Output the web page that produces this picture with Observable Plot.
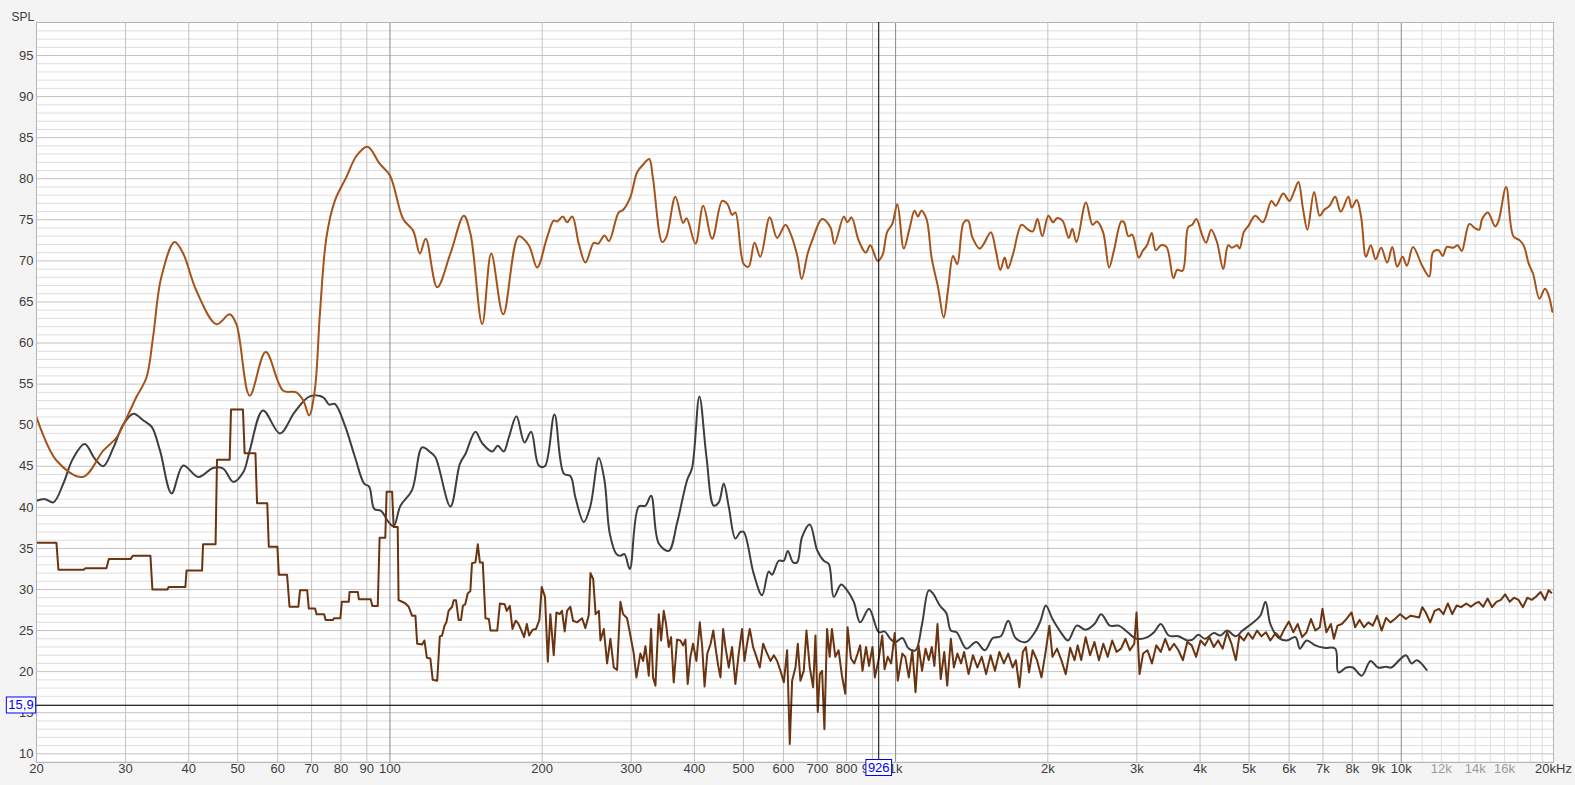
<!DOCTYPE html>
<html><head><meta charset="utf-8">
<script src="https://cdn.jsdelivr.net/npm/d3@7"></script>
<script src="https://cdn.jsdelivr.net/npm/@observablehq/plot@0.6"></script>
<style>
html,body{margin:0;padding:0;background:#f4f4f4;}
#chart{width:1575px;height:785px;}
</style></head><body><div id="chart"></div>
<script>
// ---- axis / tick data ----
const yMajor = [10,15,20,25,30,35,40,45,50,55,60,65,70,75,80,85,90,95];
const yMinor = [9,11,12,13,14,16,17,18,19,21,22,23,24,26,27,28,29,31,32,33,34,36,37,38,39,41,42,43,44,46,47,48,49,51,52,53,54,56,57,58,59,61,62,63,64,66,67,68,69,71,72,73,74,76,77,78,79,81,82,83,84,86,87,88,89,91,92,93,94,96,97,98];
const xMajor = [30,40,50,60,70,80,90,200,300,400,500,600,700,800,900,2000,3000,4000,5000,6000,7000,8000,9000];
const xDecade = [100,1000,10000];
const xMinor = [11000,12000,13000,14000,15000,16000,17000,18000,19000];
const xLabels = [[20,"20"],[30,"30"],[40,"40"],[50,"50"],[60,"60"],[70,"70"],[80,"80"],[90,"90"],[100,"100"],[200,"200"],[300,"300"],[400,"400"],[500,"500"],[600,"600"],[700,"700"],[800,"800"],[900,"900"],[1000,"1k"],[2000,"2k"],[3000,"3k"],[4000,"4k"],[5000,"5k"],[6000,"6k"],[7000,"7k"],[8000,"8k"],[9000,"9k"],[10000,"10k"],[20000,"20kHz"]];
const xLabelsLight = [[12000,"12k"],[14000,"14k"],[16000,"16k"]];
const cursorFreq = 926;
const cursorSpl = 15.9;
const cursorFreqLabel = "926";
const cursorSplLabel = "15,9";

// ---- series: [frequency Hz, SPL dB] ----
const orangeCurve = [
[20,51.0],[21.9,45.7],[24.7,43.7],[27.1,46.9],[28.8,48.5],[30.2,51.0],[31.5,53.4],[33.0,55.8],[34.0,60.7],[35.3,68.0],[37.5,72.3],[39.0,70.9],[41.4,66.4],[45.4,62.3],[48.2,63.5],[49.7,62.3],[52.8,53.6],[56.8,58.9],[61.5,54.2],[65.3,54.0],[67.4,53.0],[69.2,51.2],[71.0,54.2],[72.7,63.6],[74.9,72.9],[77.8,77.3],[82.0,80.2],[85.9,82.8],[90.3,83.9],[95.5,81.8],[100,80.4],[106.2,75.1],[111.1,73.7],[114.6,70.9],[117.7,72.7],[124,66.8],
[131.7,70.9],[140,75.5],[144.3,73.3],[152.2,62.3],[158.6,70.9],[167.5,63.5],[179.8,73.0],[188.2,71.9],[195.5,69.2],[204.6,72.9],[210.8,74.9],[214,74.8],[219.7,75.4],[224,74.7],[229.4,75.4],[236.3,72.1],[243.6,69.8],[253,72.2],[258,72.1],[265.7,73.1],[271,72.4],[283.4,75.9],[289,76.2],[299,77.8],[308.2,80.8],[317.6,81.8],[325.6,82.4],[331,80.2],[345.5,72.3],[352,72.9],[366.9,77.8],[380,74.6],[386,75.2],[402,72.1],[416.4,76.7],[433.8,72.7],[454,77.3],[465,76.9],[475,75.6],[482,75.9],[500.8,69.6],[512,69.3],[526,72.2],[540,70.5],[563.8,75.3],[583,72.8],[605.6,74.4],[618,73.5],[638.7,70.7],[652,67.8],[670,70.9],[684,72.5],[715.8,75.1],[743,74.1],[757,72.1],[790,75.4],[803,74.7],[818,75.3],[845,72.5],[873,71.0],[891,71.9],[921.8,70.0],[942,70.7],[962,73.5],[985,74.5],[1008,76.9],
[1038,71.5],[1065,73.9],[1090,76.1],[1107,75.4],[1124,76.1],[1151,75.1],[1178,70.4],[1213,66.8],[1245,63.1],[1269,66.4],[1299,70.6],[1324,69.6],[1364,74.7],[1391,74.9],[1418,72.9],[1466,71.5],[1495,72.1],[1543,73.5],[1580,71.1],[1611,68.9],[1643,70.4],[1668,69.1],[1708,70.9],[1775,74.4],[1829,73.8],[1868,73.6],[1908,75.1],[1950,73.0],[2005,75.5],[2049,74.7],[2084,75.2],[2138,74.9],[2200,72.8],[2236,73.9],[2279,72.3],[2379,77.1],[2451,74.4],[2501,74.8],[2572,73.5],[2644,69.2],[2703,71.3],[2795,74.8],[2830,74.7],[2886,73.0],[2936,73.2],[3026,70.4],[3080,71.2],[3141,71.9],[3210,73.4],[3270,71.3],[3349,71.9],[3433,71.7],[3543,67.9],[3604,68.9],[3694,68.8],[3789,74.1],[3861,74.4],[3934,75.1],[4030,73.3],[4110,72.2],[4208,73.8],[4320,72.3],[4446,69.0],[4547,71.9],[4624,71.6],[4735,71.9],[4790,71.5],[4882,73.5],[4990,74.3],[5142,75.5],[5327,74.7],[5537,77.3],[5646,76.7],[5842,78.2],[6010,77.3],[6134,78.4],[6260,79.6],[6393,76.3],[6522,73.8],[6723,78.4],[6896,75.5],[7036,76.2],[7213,76.7],[7403,77.8],[7591,76.0],[7858,77.8],[7981,76.5],[8164,77.4],[8331,75.3],[8515,70.5],[8702,71.9],[8899,70.2],[9124,71.6],[9379,69.8],[9600,71.7],[9815,69.3],[10060,70.5],[10260,69.4],[10550,71.7],[11000,69.4],[11360,68.1],[11560,71.1],[11850,71.3],[12080,70.6],[12310,71.7],[12670,71.6],[12930,71.9],[13170,71.2],[13630,74.5],[13980,74.0],[14260,73.8],[14450,75.1],[14830,75.9],[15330,74.2],[15560,74.8],[16120,79.0],[16660,73.0],[17150,72.5],[17480,71.8],[17880,69.6],[18230,68.4],[18760,65.4],[19230,66.6],[19510,66.0],[19900,63.8]
];

const grayCurve = [
[20,40.8],[20.8,41.0],[21.6,40.6],[22.6,42.9],[23.6,45.9],[24.9,47.7],[26.1,45.9],[27.1,45.0],[28.4,47.3],[29.7,50.1],[31.1,51.4],[32.5,50.6],[33.8,49.8],[35.1,46.9],[37.0,41.7],[39.0,45.1],[41.8,43.7],[44.7,44.8],[46.8,44.7],[49.0,43.1],[51.3,44.3],[52.8,46.9],[56.1,51.8],[60.6,49.0],[64.8,51.6],[69.4,53.5],[73.8,53.4],[75.8,52.5],[77.8,52.6],[81.4,50.0],[85.3,46.1],[88.9,42.9],[91.0,42.5],[93.1,39.8],[95.9,39.6],[99.4,38.2],[101.7,37.7],[104.9,40.2],
[110.6,42.1],[115.8,47.3],[120.2,46.7],[123.0,46.1],[131.7,40.1],[137.5,45.3],[141.0,46.5],[147.6,49.2],[152.2,47.8],[159.3,46.8],[163.4,47.5],[167.9,46.8],[171.8,48.5],[177.9,51.1],[184.5,47.9],[190.2,49.2],[196.9,45.1],[202.4,45.0],[211.5,51.3],[220.7,44.1],[227.5,43.8],[232.7,41.2],[241.7,38.2],[249.2,40.2],[258.8,46.0],[265.6,43.3],[272.1,36.8],[280.5,34.3],[285.6,34.1],[290.9,34.3],[298.0,32.5],[310.5,40.1],[320.0,40.2],[328.4,41.4],[340.1,35.6],[355.9,34.7],[369.7,38.1],[386.9,43.3],[395.8,44.8],[409.2,53.5],[422.5,46.2],[436.9,40.2],[446.9,40.6],[457.2,42.9],[467.7,40.1],[482.1,36.2],[493.2,37.0],[500.8,37.0],[524.1,31.9],[544.4,29.3],[561.1,32.2],[569.7,31.8],[587.4,33.5],[601.0,33.5],[612.0,34.7],[627.1,33.3],[638.6,33.3],[653.3,36.4],[676.5,37.9],[699.5,34.8],[721.0,33.5],[737.7,33.1],[754.6,29.1],[780.3,30.6],[801.9,29.9],[826.6,28.5],
[851,26.0],[886,27.65],[926,24.8],[951,24.9],[976,24.0],[1000,23.6],[1031,24.1],[1062,22.8],[1095,22.6],[1128,25.8],[1163,29.9],[1186,29.5],[1223,28.05],[1260,27.1],[1286,25.0],[1320,24.8],[1380,22.8],[1443,23.6],[1501,22.6],[1557,24.1],[1614,24.3],[1670,26.2],[1727,24.1],[1810,23.6],[1885,24.8],[1935,26.2],[1982,28.05],[2043,26.4],[2127,24.7],[2192,23.8],[2282,25.6],[2376,25.1],[2473,25.8],[2550,27.0],[2654,25.6],[2763,25.6],[2877,24.8],[2995,24.0],[3149,24.2],[3245,24.8],[3345,25.8],[3468,24.4],[3625,24.3],[3774,23.8],[3866,23.9],[3969,24.5],[4090,24.0],[4258,24.7],[4389,24.4],[4523,25.0],[4709,24.3],[4853,25.0],[5052,25.8],[5260,26.8],[5389,28.5],[5509,25.8],[5700,24.2],[5934,23.8],[6178,24.2],[6303,22.8],[6496,23.8],[6763,23.2],[7040,22.9],[7403,22.8],[7508,19.9],[7785,20.5],[8023,20.5],[8353,19.5],[8695,21.3],[8997,20.5],[9329,20.6],[9557,20.5],[9909,21.4],[10212,22.0],[10483,21.0],[10739,21.4],[11226,20.2]
];

const brownCurve = [
[20,35.7],[21.9,35.7],[22.1,32.4],[24.8,32.4],[25.0,32.6],[27.5,32.6],[27.8,33.7],[30.7,33.7],[31.0,34.1],[33.6,34.1],[33.9,30.0],[36.3,30.0],[36.5,30.3],[39.4,30.3],[39.6,32.3],[42.5,32.3],[42.7,35.5],[45.2,35.5],[45.5,45.8],[48.2,45.8],[48.5,51.9],[51.2,51.9],[51.6,46.6],[54.2,46.6],[54.6,40.5],[57.2,40.5],[57.6,35.2],[59.9,35.2],[60.3,31.8],[62.6,31.8],[63.3,27.9],[65.9,27.9],[66.4,29.9],[68.6,29.9],[69.1,27.7],[71.1,27.7],[71.6,27.0],[74.1,27.0],[74.6,26.3],[77.2,26.3],[77.5,26.5],[79.8,26.5],[80.3,28.5],[82.9,28.5],[83.2,29.7],[86.4,29.7],[86.8,28.8],[91.6,28.8],[92.3,28.0],[94.6,28.0],[95.4,36.3],[97.9,36.3],[98.5,41.9],[101.0,41.9],[101.7,37.6],[103.6,37.6],[104.0,28.7],
[104.9,28.6],[107.3,28.3],[108.9,27.9],[110.6,26.8],[112.3,26.8],[113.2,23.4],[115.8,23.3],[117.0,23.8],[118.3,21.7],[120.2,21.6],[121.5,19.0],[124.0,18.9],[125.5,24.3],[126.8,24.4],[128.2,25.6],[129.3,26.0],[130.6,27.4],[132.7,27.9],[133.7,28.7],[135.1,28.7],[136.7,26.3],[138.2,26.3],[139.4,28.0],[140.9,28.2],[142.5,29.5],[144.2,29.8],[145.3,33.2],[147.6,33.3],[149.2,35.5],[150.6,33.3],[152.6,33.3],[154.5,26.5],[156.9,26.4],[158.1,25.0],[163.0,25.0],[165.0,28.3],[168.6,28.2],[170.2,27.4],[172.6,28.0],[174.7,25.2],[177.3,26.2],[179.2,25.9],[181.4,25.2],[184.2,24.2],[186.5,25.8],[188.5,24.4],[191.5,25.1],[194.5,25.2],[197.5,26.3],[199.6,30.3],[202.6,29.1],[205.2,21.2],[207.6,27.0],[210.8,22.0],[213.4,27.2],[216.6,27.0],[218.9,27.4],[221.6,24.9],[224.0,27.4],[227.4,27.9],[230.2,26.2],[234.4,26.0],[239.9,26.5],[243.5,25.3],[247.3,26.9],[249.2,32.0],[252.3,31.3],[255.1,27.0],[258.9,27.4],[260.8,23.8],[264.8,25.2],[268.8,21.0],[272.9,24.0],[277.1,20.5],[281.3,20.2],[285.6,28.5],[289.1,27.0],[294.4,26.5],[298.9,24.4],[303.5,22.2],[307.2,19.3],[312.8,22.2],[316.7,21.3],[320.1,23.1],[325.0,19.5],[328.4,25.2],[331.4,19.3],[335.0,18.3],[340.1,27.0],[343.8,23.8],[347.9,27.4],[351.6,25.8],[355.9,23.0],[359.7,24.2],[364.1,18.7],[369.7,23.9],[375.3,23.8],[379.9,23.2],[384.0,23.9],[388.0,18.5],[392.8,21.8],[397.6,23.4],[403.7,21.3],[410.0,26.0],[414.5,23.0],[419.0,18.2],[424.2,22.2],[430.7,23.4],[436.0,25.0],[440.7,22.8],[445.6,20.8],[450.4,19.3],[455.9,25.2],[460.8,23.0],[467.8,20.5],[474.9,23.0],[482.1,18.5],[489.5,22.2],[497.0,25.2],[502.4,21.3],[508.5,23.4],[514.7,25.2],[522.6,23.0],[530.6,21.8],[538.7,20.5],[547.0,23.4],[555.3,22.4],[565.6,21.3],[574.3,22.0],[583.1,21.3],[592.0,20.1],[601.0,18.7],[610.2,22.6],[617.6,11.2],[624.2,18.9],[633.8,20.5],[640.6,23.4],[648.3,18.9],[658.2,20.1],[666.3,25.0],[676.5,20.5],[686.9,18.1],[694.2,24.4],[701.6,15.1],[708.0,19.7],[715.5,20.1],[723.1,13.0],[731.8,25.2],[740.6,21.8],[748.3,25.2],[759.8,21.8],[771.4,22.6],[783.2,19.5],[795.2,17.3],[803.6,25.4],[815.9,21.6],[828.4,21.0],[841.1,22.2],
[851,23.2],[860,20.1],[874,23.0],[886,20.7],[900,23.0],[910,19.3],[925,21.4],[941,24.4],[951,20.3],[965,21.8],[980,21.0],[996,24.7],[1010,18.9],[1031,22.2],[1045,21.8],[1062,19.3],[1079,22.6],[1095,17.5],[1110,23.2],[1128,20.1],[1146,22.8],[1163,21.4],[1179,23.0],[1193,20.7],[1210,25.8],[1228,19.1],[1248,22.4],[1265,18.3],[1286,24.0],[1304,20.5],[1325,22.2],[1347,21.0],[1366,22.4],[1394,19.7],[1422,22.0],[1451,20.5],[1480,21.8],[1510,19.7],[1541,22.0],[1572,20.1],[1604,22.4],[1637,21.0],[1670,22.2],[1704,20.5],[1729,21.4],[1757,18.1],[1785,22.4],[1810,23.0],[1836,19.9],[1866,22.6],[1904,21.4],[1943,19.3],[1982,22.6],[2014,25.6],[2043,21.8],[2085,22.8],[2127,21.4],[2170,19.7],[2214,22.9],[2259,21.4],[2291,23.2],[2328,21.4],[2376,24.2],[2424,22.0],[2473,23.6],[2524,21.4],[2575,23.4],[2627,21.8],[2681,23.8],[2735,22.4],[2791,22.8],[2848,24.0],[2906,22.6],[2965,23.4],[2995,27.2],[3037,19.7],[3086,22.2],[3149,22.6],[3213,21.0],[3278,23.2],[3345,22.4],[3413,24.0],[3482,22.6],[3553,23.4],[3625,22.6],[3699,21.4],[3774,23.6],[3851,23.2],[3929,21.8],[4009,23.8],[4090,23.2],[4173,24.2],[4258,23.0],[4345,23.8],[4433,22.8],[4523,24.8],[4615,23.4],[4709,21.4],[4785,24.4],[4882,23.8],[4982,24.7],[5083,24.0],[5186,25.0],[5291,24.3],[5399,24.8],[5509,23.8],[5643,24.7],[5758,24.1],[5875,25.2],[5994,26.1],[6116,24.8],[6240,25.8],[6367,24.2],[6496,24.8],[6628,26.4],[6763,25.0],[6900,25.4],[6984,27.65],[7111,24.8],[7256,25.8],[7359,24.0],[7478,25.6],[7630,25.8],[7785,26.4],[7975,27.2],[8104,25.4],[8269,26.3],[8437,25.4],[8608,26.0],[8783,25.6],[8961,26.8],[9143,25.0],[9329,26.55],[9518,26.0],[9712,26.4],[9949,27.0],[10213,26.4],[10420,26.8],[10631,26.7],[10847,26.6],[11002,27.85],[11180,27.2],[11407,26.0],[11638,27.4],[11875,27.65],[12116,27.0],[12362,28.3],[12613,27.0],[12869,28.05],[13130,27.85],[13451,28.3],[13724,27.9],[14003,28.3],[14230,28.5],[14519,27.9],[14814,28.9],[15115,27.85],[15422,28.5],[15735,28.74],[16054,29.4],[16380,28.5],[16713,29.0],[17052,28.74],[17399,27.85],[17752,29.0],[18113,28.74],[18480,29.15],[18856,29.7],[19239,28.74],[19553,29.9],[19800,29.6]
];

const FONT = "'Liberation Sans', Arial, sans-serif";

const chart = Plot.plot({
  width: 1575, height: 785,
  marginLeft: 36, marginRight: 22, marginTop: 22, marginBottom: 23,
  style: {fontFamily: FONT, fontSize: "13px", background: "transparent", overflow: "visible"},
  x: {type: "log", domain: [20, 20000], axis: null},
  y: {domain: [8.94, 99.02], axis: null},
  marks: [
    Plot.frame({fill: "white", stroke: "none"}),
    Plot.ruleY(yMinor, {stroke: "#dedede", strokeWidth: 1}),
    Plot.ruleY(yMajor, {stroke: "#c2c2c2", strokeWidth: 1}),
    Plot.ruleX(xMinor, {stroke: "#dedede", strokeWidth: 1}),
    Plot.ruleX(xMajor, {stroke: "#c2c2c2", strokeWidth: 1}),
    Plot.ruleX(xDecade, {stroke: "#8a8a8a", strokeWidth: 1}),
    Plot.line(grayCurve, {x: d => d[0], y: d => d[1], stroke: "#3e3e3e", strokeWidth: 2, curve: "catmull-rom", clip: true}),
    Plot.line(brownCurve, {x: d => d[0], y: d => d[1], stroke: "#6b3410", strokeWidth: 2, strokeLinejoin: "round", clip: true}),
    Plot.line(orangeCurve, {x: d => d[0], y: d => d[1], stroke: "#a5531a", strokeWidth: 2, curve: "catmull-rom", clip: true}),
    Plot.frame({stroke: "#b4b4b4"}),
    Plot.ruleX([cursorFreq], {stroke: "black", strokeWidth: 1}),
    Plot.ruleY([cursorSpl], {stroke: "black", strokeWidth: 1}),
    // y tick labels
    Plot.text(yMajor, {y: d => d, frameAnchor: "left", textAnchor: "end", dx: -3, text: d => String(d), fill: "#3c3c3c", fontSize: 13}),
    // x tick labels
    Plot.text(xLabels, {x: d => d[0], text: d => d[1], frameAnchor: "bottom", dy: 10, fill: "#3c3c3c", fontSize: 13}),
    Plot.text(xLabelsLight, {x: d => d[0], text: d => d[1], frameAnchor: "bottom", dy: 10, fill: "#9a9a9a", fontSize: 13}),
    // axis title
    Plot.text(["SPL"], {frameAnchor: "top-left", textAnchor: "start", dx: -25, dy: -10, fill: "#3c3c3c", fontSize: 12}),
    // cursor readouts
    Plot.text([cursorSplLabel], {y: cursorSpl, frameAnchor: "left", textAnchor: "middle", dx: -15.5, fill: "#0000ff", fontSize: 13, className: "cursor-label"}),
    Plot.text([cursorFreqLabel], {x: cursorFreq, frameAnchor: "bottom", textAnchor: "middle", dy: 9.5, fill: "#0000ff", fontSize: 13, className: "cursor-label"})
  ]
});

document.getElementById("chart").append(chart);

d3.select(chart).selectAll("g.cursor-label text").each(function() {
  const b = this.getBBox();
  const t = this.getAttribute("transform");
  const r = d3.select(this.parentNode).insert("rect", () => this)
    .attr("x", b.x - 2).attr("y", b.y - 0.5)
    .attr("width", b.width + 4).attr("height", b.height + 1)
    .attr("fill", "white").attr("stroke", "#0000ff").attr("stroke-width", 1);
  if (t) r.attr("transform", t);
});
</script></body></html>
